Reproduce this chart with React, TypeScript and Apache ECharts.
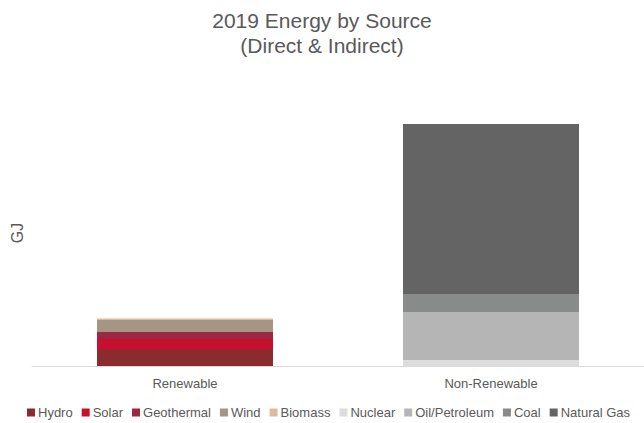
import React, { useEffect, useRef } from "react";
import * as echarts from "echarts";

const categories = ["Renewable", "Non-Renewable"];
const seriesNames = ["Hydro", "Solar", "Geothermal", "Wind", "Biomass", "Nuclear", "Oil/Petroleum", "Coal", "Natural Gas"];
const seriesColors = ["#8B2B2E", "#C8102E", "#9B2743", "#A69584", "#DDB9A0", "#DDDDDD", "#B4B5B4", "#888B8A", "#646464"];
// values in thousands of GJ (estimated), index 0: Renewable, 1: Non-Renewable
const hydro = [17, 0];
const solar = [10, 0];
const geothermal = [7, 0];
const wind = [12, 0];
const biomass = [1.5, 0];
const nuclear = [0, 6];
const oilPetroleum = [0, 48];
const coal = [0, 18];
const naturalGas = [0, 170];
const seriesValues = [hydro, solar, geothermal, wind, biomass, nuclear, oilPetroleum, coal, naturalGas];

export default function App() {
  const ref = useRef<HTMLDivElement>(null);
  useEffect(() => {
    const chart = echarts.init(ref.current!, null, { renderer: "svg" });
    const font = "Liberation Sans, Arial, sans-serif";
    chart.setOption({
      animation: false,
      textStyle: { fontFamily: font },
      title: {
        text: "2019 Energy by Source\n(Direct & Indirect)",
        left: "center",
        top: 3,
        textStyle: { fontFamily: font, fontSize: 21, fontWeight: "normal", color: "#595959", lineHeight: 25 },
      },
      legend: {
        top: 406,
        left: 22,
        padding: [0, 5],
        itemWidth: 8,
        itemHeight: 8,
        itemGap: 9,
        icon: "rect",
        textStyle: { fontFamily: font, fontSize: 13, color: "#595959", padding: [0, 0, 0, -2] },
        data: seriesNames,
      },
      grid: { left: 32, right: 0, top: 100, bottom: 57 },
      xAxis: {
        type: "category",
        data: categories,
        axisLine: { lineStyle: { color: "#D9D9D9", width: 1 } },
        axisTick: { show: false },
        axisLabel: { fontFamily: font, fontSize: 13, color: "#595959", margin: 11 },
      },
      yAxis: {
        type: "value",
        min: 0,
        max: 266,
        name: "GJ",
        nameLocation: "middle",
        nameGap: 7,
        nameRotate: 90,
        nameTextStyle: { fontFamily: font, fontSize: 16, color: "#595959" },
        axisLabel: { show: false },
        axisLine: { show: false },
        axisTick: { show: false },
        splitLine: { show: false },
      },
      series: seriesNames.map((name, i) => ({
        name,
        type: "bar",
        stack: "total",
        barWidth: 176,
        itemStyle: { color: seriesColors[i] },
        data: seriesValues[i].map((v) => (v === 0 ? null : v)),
      })),
    });
    return () => chart.dispose();
  }, []);
  return <div ref={ref} style={{ width: 644, height: 423, position: "absolute", left: 0, top: 0 }} />;
}
